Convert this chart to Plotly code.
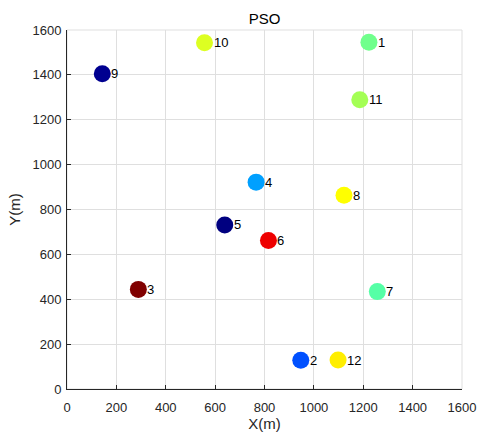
import plotly.graph_objects as go

labels = ["1", "2", "3", "4", "5", "6", "7", "8", "9", "10", "11", "12"]
x_vals = [1223, 947, 289, 766, 639, 816, 1257, 1122, 143, 557, 1186, 1098]
y_vals = [1545, 128, 444, 922, 731, 662, 434, 863, 1405, 1543, 1289, 129]
colors = ["#70ff8c", "#0050ff", "#800000", "#00a0ff", "#000080", "#ee0000",
          "#55ffa6", "#ffff00", "#000090", "#ddff22", "#a4ff55", "#ffee00"]

tick_vals = [0, 200, 400, 600, 800, 1000, 1200, 1400, 1600]
FONT = "Liberation Sans, Arial, sans-serif"

fig = go.Figure()
fig.add_trace(go.Scatter(
    x=x_vals, y=y_vals, mode="markers",
    marker=dict(size=17, color=colors, line=dict(width=0)),
    showlegend=False, cliponaxis=False, hoverinfo="text", text=labels,
))

annotations = [
    dict(x=xv, y=yv, xref="x", yref="y", text=lab, showarrow=False,
         xanchor="left", yanchor="middle", xshift=7, yshift=0,
         font=dict(family=FONT, size=13, color="#000000"))
    for xv, yv, lab in zip(x_vals, y_vals, labels)
]

axis_common = dict(
    range=[0, 1600], tickvals=tick_vals, ticks="inside", ticklen=4,
    tickcolor="#262626", showline=True, linecolor="#262626", linewidth=1,
    showgrid=True, gridcolor="#dfdfdf", gridwidth=1, zeroline=False,
    tickfont=dict(family=FONT, size=13, color="#262626"),
    fixedrange=True, automargin=False,
)

fig.update_layout(
    width=480, height=438,
    margin=dict(l=67, r=18, t=30, b=49),
    paper_bgcolor="white", plot_bgcolor="white",
    title=dict(text="PSO", x=0.5, xref="paper", xanchor="center",
               y=1 - 19 / 438, yref="container", yanchor="middle",
               font=dict(family=FONT, size=15, color="#000000")),
    xaxis=dict(axis_common, ticklabelstandoff=6,
               title=dict(text="X(m)", standoff=4,
                          font=dict(family=FONT, size=15, color="#262626"))),
    yaxis=dict(axis_common, ticklabelstandoff=2,
               title=dict(text="Y(m)", standoff=8,
                          font=dict(family=FONT, size=15, color="#262626"))),
    shapes=[dict(type="rect", xref="paper", yref="paper", x0=0, y0=0, x1=1, y1=1,
                 line=dict(color="#dfdfdf", width=1), layer="below")],
    annotations=annotations,
)

fig.write_html("out.html")
